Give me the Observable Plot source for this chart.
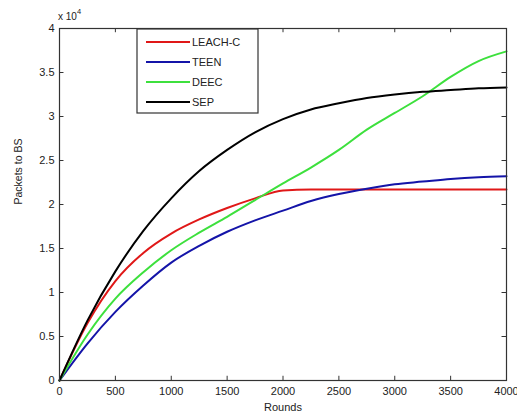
<!DOCTYPE html>
<html>
<head>
<meta charset="utf-8">
<script src="https://cdn.jsdelivr.net/npm/d3@7"></script>
<script src="https://cdn.jsdelivr.net/npm/@observablehq/plot@0.6"></script>
<style>
  html, body { margin: 0; padding: 0; background: #fff; }
  #chart { position: relative; width: 517px; height: 419px; }
  svg { font-family: "Liberation Sans", Arial, sans-serif; }
</style>
</head>
<body>
<div id="chart"></div>
<script>
// Values in units of 10^4 packets
const rounds = [0, 250, 500, 750, 1000, 1250, 1500, 1750, 2000, 2250, 2500, 2750, 3000, 3250, 3500, 3750, 4000];
const leachC = [0, 0.65, 1.13, 1.45, 1.67, 1.83, 1.96, 2.07, 2.16, 2.17, 2.17, 2.17, 2.17, 2.17, 2.17, 2.17, 2.17];
const teen   = [0, 0.42, 0.78, 1.08, 1.34, 1.53, 1.69, 1.82, 1.93, 2.04, 2.12, 2.18, 2.23, 2.26, 2.29, 2.31, 2.32];
const deec   = [0, 0.52, 0.93, 1.23, 1.48, 1.68, 1.86, 2.05, 2.24, 2.42, 2.62, 2.85, 3.04, 3.23, 3.45, 3.63, 3.74];
const sep    = [0, 0.68, 1.24, 1.70, 2.07, 2.38, 2.62, 2.82, 2.97, 3.08, 3.15, 3.21, 3.25, 3.28, 3.30, 3.32, 3.33];

const seriesNames = ["LEACH-C", "TEEN", "DEEC", "SEP"];
const seriesValues = [leachC, teen, deec, sep];
const seriesColors = ["#e01818", "#1414a8", "#3de03d", "#000000"];

const xTicks = [0, 500, 1000, 1500, 2000, 2500, 3000, 3500, 4000];
const yTicks = [0, 0.5, 1, 1.5, 2, 2.5, 3, 3.5, 4];
const yTickLabels = ["0", "0.5", "1", "1.5", "2", "2.5", "3", "3.5", "4"];

const data = [];
seriesNames.forEach((name, i) => {
  rounds.forEach((r, j) => data.push({series: name, rounds: r, value: seriesValues[i][j]}));
});

const xMax = 4000, yMax = 4;
const chart = Plot.plot({
  width: 517,
  height: 419,
  marginLeft: 59,
  marginRight: 11,
  marginTop: 28,
  marginBottom: 39,
  style: {fontFamily: "Liberation Sans, Arial, sans-serif", fontSize: "11px", background: "#fff", color: "#222"},
  x: {domain: [0, xMax], ticks: xTicks},
  y: {domain: [0, yMax], ticks: yTicks},
  color: {domain: seriesNames, range: seriesColors},
  marks: [
    Plot.axisX(xTicks, {tickSize: 0, tickPadding: 7, label: null, fontSize: 11, tickFormat: d3.format("d")}),
    Plot.axisY(yTicks, {tickSize: 0, tickPadding: 5, label: null, fontSize: 11,
      tickFormat: (d) => yTickLabels[yTicks.indexOf(d)]}),
    // inward tick marks on all four sides
    Plot.ruleX(xTicks, {y1: 0, y2: yMax * 0.012, stroke: "#333"}),
    Plot.ruleX(xTicks, {y1: yMax, y2: yMax * 0.988, stroke: "#333"}),
    Plot.ruleY(yTicks, {x1: 0, x2: xMax * 0.01, stroke: "#333"}),
    Plot.ruleY(yTicks, {x1: xMax, x2: xMax * 0.99, stroke: "#333"}),
    Plot.line(data, {x: "rounds", y: "value", z: "series", stroke: "series", strokeWidth: 2, curve: "monotone-x"}),
    Plot.frame({stroke: "#333", strokeWidth: 1.2}),
    Plot.text(["Rounds"], {frameAnchor: "bottom", dy: 30, fontSize: 11, fill: "#222"}),
    Plot.text(["Packets to BS"], {frameAnchor: "left", dx: -41, rotate: -90, fontSize: 10.5, fill: "#222"})
  ]
});

document.getElementById("chart").appendChild(chart);

// exponent label "x 10^4"
const svg = d3.select(chart);
const ex = svg.append("text").attr("x", 58).attr("y", 20).attr("text-anchor", "start")
  .attr("font-size", 10).attr("fill", "#222");
ex.append("tspan").text("x 10");
ex.append("tspan").attr("dy", -6).attr("font-size", 7.5).text("4");

// legend box
const lg = svg.append("g").attr("transform", "translate(137,29)");
lg.append("rect").attr("width", 121).attr("height", 84)
  .attr("fill", "#fff").attr("stroke", "#333").attr("stroke-width", 1.2);
seriesNames.forEach((name, i) => {
  const yy = 13 + i * 20;
  lg.append("line").attr("x1", 9).attr("x2", 53).attr("y1", yy).attr("y2", yy)
    .attr("stroke", seriesColors[i]).attr("stroke-width", 2);
  lg.append("text").attr("x", 55).attr("y", yy).attr("dy", "0.35em").attr("text-anchor", "start")
    .attr("font-size", 11).attr("fill", "#222").text(name);
});
</script>
</body>
</html>
